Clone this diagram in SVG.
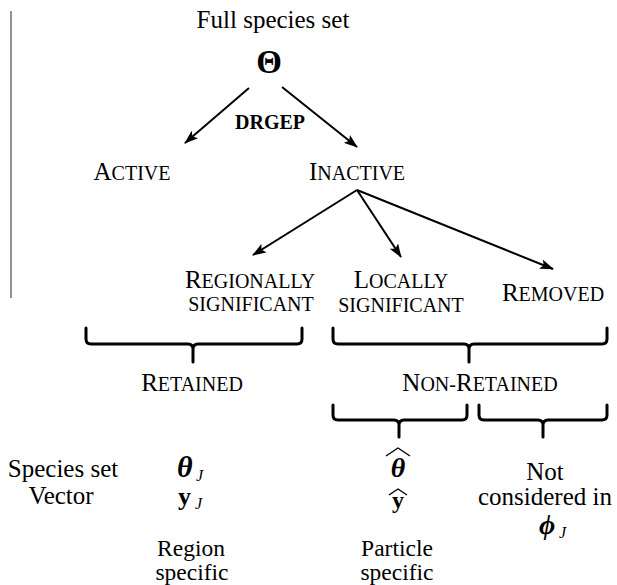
<svg xmlns="http://www.w3.org/2000/svg" width="617" height="585" viewBox="0 0 617 585">
<style>
text{font-family:"Liberation Serif","Times New Roman",serif;fill:#000;text-anchor:middle;font-size:25px}
.sc{font-size:20px}
.b{font-weight:bold}
.bi{font-weight:bold;font-style:italic}
.sm{font-size:23.5px}
.sub{font-style:italic;font-size:16px;text-anchor:start}
.arr{stroke:#000;stroke-width:2;fill:none;marker-end:url(#ah)}
.brace{stroke:#000;stroke-width:3;fill:none;stroke-linecap:round;stroke-linejoin:round}
.hat{stroke:#000;stroke-width:1.4;fill:none}
</style>
<defs>
<marker id="ah" markerUnits="userSpaceOnUse" markerWidth="14" markerHeight="10" refX="13" refY="5" orient="auto">
<path d="M0,0 L14,5 L0,10 L3,5 z" fill="#000"/>
</marker>
</defs>
<rect width="617" height="585" fill="#fff"/>
<line x1="11" y1="11" x2="11" y2="298" stroke="#777" stroke-width="1.6"/>

<g id="full"><text x="273" y="28">Full species set</text>
<text x="269" y="73" class="b" style="font-size:33px">Θ</text></g>
<g id="drgep"><text x="270" y="129" class="b" style="font-size:20px">DRGEP</text></g>
<g id="active"><text x="132" y="180">A<tspan class="sc">CTIVE</tspan></text></g>
<g id="inactive"><text x="357" y="180">I<tspan class="sc">NACTIVE</tspan></text></g>
<g id="regional"><text x="250" y="288">R<tspan class="sc">EGIONALLY</tspan></text>
<text x="251" y="311" class="sc">SIGNIFICANT</text></g>
<g id="local"><text x="401" y="288">L<tspan class="sc">OCALLY</tspan></text>
<text x="401" y="312" class="sc">SIGNIFICANT</text></g>
<g id="removed"><text x="553" y="301">R<tspan class="sc">EMOVED</tspan></text></g>
<g id="retained"><text x="192" y="391">R<tspan class="sc">ETAINED</tspan></text></g>
<g id="nonretained"><text x="480" y="391">N<tspan class="sc">ON-</tspan>R<tspan class="sc">ETAINED</tspan></text></g>

<g id="labels"><text x="63" y="477">Species set</text>
<text x="61" y="504">Vector</text></g>
<g id="region"><text x="177" y="477" class="bi" style="font-size:30px;text-anchor:start">θ</text>
<text x="196" y="481" class="sub">J</text>
<text x="178" y="505" class="b" style="font-size:26px;text-anchor:start">y</text>
<text x="195" y="509" class="sub">J</text>
<text x="191" y="556" class="sm">Region</text>
<text x="192" y="580" class="sm">specific</text></g>
<g id="particle"><path class="hat" d="M386,456 L398,448 L410,456"/>
<text x="398" y="477" class="bi" style="font-size:28px">θ</text>
<path class="hat" d="M389,495 L398,489 L407,495"/>
<text x="398" y="508" class="b" style="font-size:24px">y</text>
<text x="397" y="556" class="sm">Particle</text>
<text x="397" y="580" class="sm">specific</text></g>
<g id="notconsidered"><text x="545" y="480">Not</text>
<text x="545" y="505">considered in</text>
<text x="547" y="534" class="bi" style="font-size:28px">ϕ</text>
<text x="559" y="538" class="sub">J</text></g>

<g id="connectors">
<line class="arr" x1="249" y1="88" x2="185" y2="143"/>
<line class="arr" x1="282" y1="87" x2="357" y2="147"/>
<line class="arr" x1="357" y1="190" x2="253" y2="255"/>
<line class="arr" x1="357" y1="190" x2="401" y2="257"/>
<line class="arr" x1="357" y1="190" x2="553" y2="269"/>
<path class="brace" d="M86,328 L86,339 Q86,344 91,344 L188,344 Q193,344 193,349 L193,362 M193,349 Q193,344 198,344 L297,344 Q302,344 302,339 L302,328"/>
<path class="brace" d="M333,328 L333,339 Q333,344 338,344 L464,344 Q469,344 469,349 L469,362 M469,349 Q469,344 474,344 L602,344 Q607,344 607,339 L607,328"/>
<path class="brace" d="M333,405 L333,415 Q333,420 338,420 L394,420 Q399,420 399,425 L399,437 M399,425 Q399,420 404,420 L462,420 Q467,420 467,415 L467,405"/>
<path class="brace" d="M479,405 L479,415 Q479,420 484,420 L538,420 Q543,420 543,425 L543,437 M543,425 Q543,420 548,420 L602,420 Q607,420 607,415 L607,405"/>
</g>
</svg>
